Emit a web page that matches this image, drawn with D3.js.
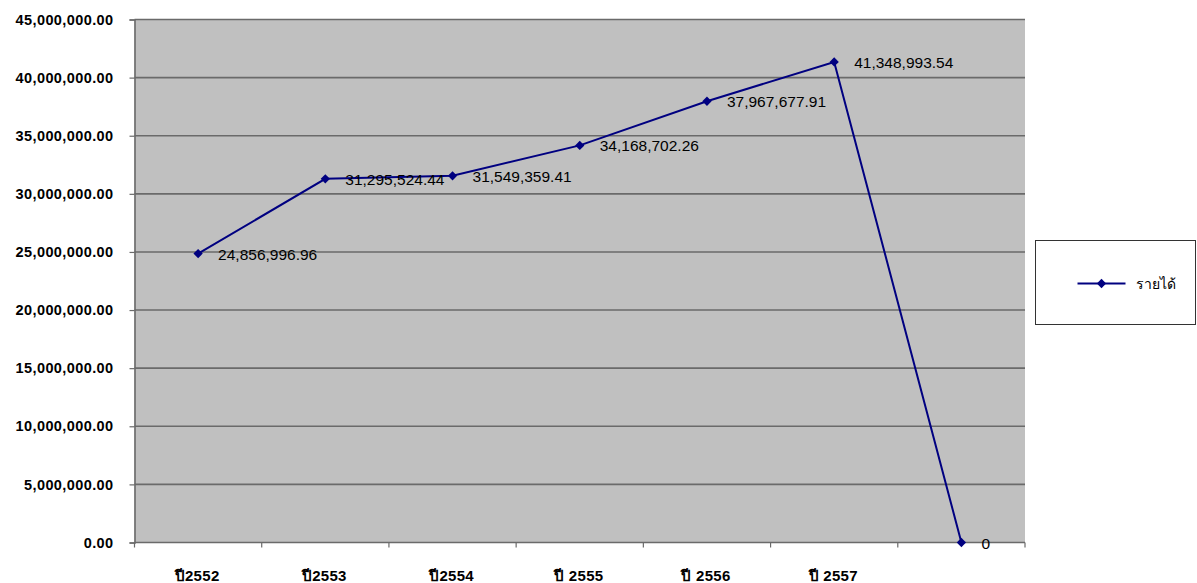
<!DOCTYPE html>
<html>
<head>
<meta charset="utf-8">
<script src="https://cdn.jsdelivr.net/npm/d3@7"></script>
<style>
body { margin: 0; background: #fff; }
text { font-family: Arial, "Liberation Sans", "Noto Sans", "DejaVu Sans", sans-serif; }
</style>
</head>
<body>
<div id="chart"></div>
<script>
// Chart data
const categories = ["ปี2552", "ปี2553", "ปี2554", "ปี 2555", "ปี 2556", "ปี 2557", ""];
const revenue = [24856996.96, 31295524.44, 31549359.41, 34168702.26, 37967677.91, 41348993.54, 0];
const dataLabels = ["24,856,996.96", "31,295,524.44", "31,549,359.41", "34,168,702.26", "37,967,677.91", "41,348,993.54", "0"];
const yTicks = [0, 5000000, 10000000, 15000000, 20000000, 25000000, 30000000, 35000000, 40000000, 45000000];
const seriesName = "รายได้";

const width = 1197, height = 583;
const plot = {left: 134.5, right: 1025, top: 19.5, bottom: 542.5};

let svg = d3.select("#chart")
    .append("svg")
    .attr("width", width)
    .attr("height", height);

// Scales
let x = d3.scaleBand()
    .domain(d3.range(categories.length))
    .range([plot.left, plot.right]);

let y = d3.scaleLinear()
    .domain([0, 45000000])
    .range([plot.bottom, plot.top]);

// Plot background
svg.append("rect")
    .attr("x", plot.left)
    .attr("y", plot.top)
    .attr("width", plot.right - plot.left)
    .attr("height", plot.bottom - plot.top)
    .attr("fill", "#c0c0c0");

// Gridlines
svg.append("g")
    .selectAll("line")
    .data(yTicks.filter(d => d > 0))
    .enter()
    .append("line")
    .attr("x1", plot.left)
    .attr("x2", plot.right)
    .attr("y1", d => y(d))
    .attr("y2", d => y(d))
    .attr("stroke", "#6a6a6a")
    .attr("stroke-width", 1.6);

// Y axis
let yAxis = svg.append("g")
    .attr("transform", `translate(${plot.left},0)`)
    .call(d3.axisLeft(y).tickValues(yTicks).tickSize(5).tickPadding(16)
        .tickFormat(d => d3.format(",.2f")(d)));
yAxis.select(".domain").attr("stroke", "#6a6a6a").attr("stroke-width", 1.6);
yAxis.selectAll(".tick line").attr("stroke", "#6a6a6a").attr("stroke-width", 1.2);
yAxis.selectAll("text")
    .style("font-size", "14.5px")
    .style("font-weight", "bold")
    .style("letter-spacing", "0.4px")
    .attr("fill", "#000");

// X axis
let xAxisG = svg.append("g")
    .attr("transform", `translate(0,${plot.bottom})`);
xAxisG.append("line")
    .attr("x1", plot.left).attr("x2", plot.right)
    .attr("stroke", "#6a6a6a").attr("stroke-width", 1.6);
xAxisG.selectAll(".xtick")
    .data(d3.range(categories.length + 1))
    .enter()
    .append("line")
    .attr("x1", d => plot.left + d * x.bandwidth())
    .attr("x2", d => plot.left + d * x.bandwidth())
    .attr("y1", 0).attr("y2", 5)
    .attr("stroke", "#6a6a6a").attr("stroke-width", 1.2);
xAxisG.selectAll(".xlabel")
    .data(categories)
    .enter()
    .append("text")
    .attr("x", (d, i) => x(i) + x.bandwidth() / 2 - 1)
    .attr("y", 38)
    .style("text-anchor", "middle")
    .style("font-size", "15px")
    .style("font-weight", "bold")
    .style("letter-spacing", "0.3px")
    .text(d => d);

// Line
let line = d3.line()
    .x((d, i) => x(i) + x.bandwidth() / 2)
    .y(d => y(d));

svg.append("path")
    .datum(revenue)
    .attr("d", line)
    .attr("fill", "none")
    .attr("stroke", "#000080")
    .attr("stroke-width", 2);

// Diamond markers
let diamond = d3.symbol().type(d3.symbolDiamond2).size(55);
svg.selectAll(".marker")
    .data(revenue)
    .enter()
    .append("path")
    .attr("transform", (d, i) => `translate(${x(i) + x.bandwidth() / 2},${y(d)})`)
    .attr("d", diamond)
    .attr("fill", "#000080");

// Data labels
svg.selectAll(".dlabel")
    .data(revenue)
    .enter()
    .append("text")
    .attr("x", (d, i) => x(i) + x.bandwidth() / 2 + 20)
    .attr("y", d => y(d) + 6)
    .style("font-size", "15.5px")
    .attr("fill", "#000")
    .text((d, i) => dataLabels[i]);

// Legend
let legend = svg.append("g").attr("transform", "translate(1035.5,240.5)");
legend.append("rect")
    .attr("width", 160).attr("height", 84)
    .attr("fill", "#fff").attr("stroke", "#333").attr("stroke-width", 1);
legend.append("line")
    .attr("x1", 42).attr("x2", 90).attr("y1", 43).attr("y2", 43)
    .attr("stroke", "#000080").attr("stroke-width", 2);
legend.append("path")
    .attr("transform", "translate(66,43)")
    .attr("d", diamond)
    .attr("fill", "#000080");
legend.append("text")
    .attr("x", 100).attr("y", 48)
    .style("font-size", "14px")
    .text(seriesName);
</script>
</body>
</html>
